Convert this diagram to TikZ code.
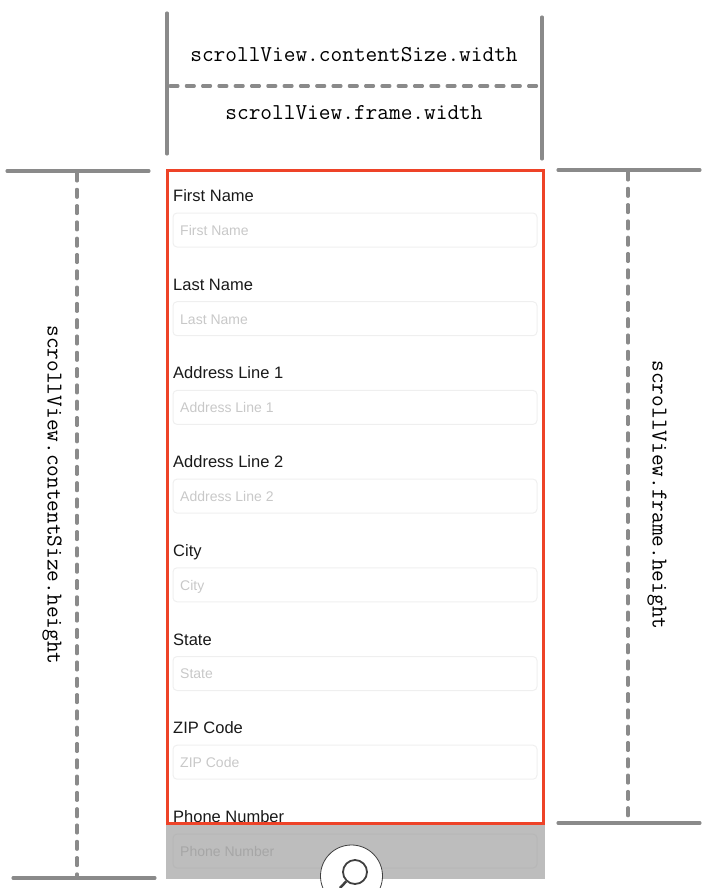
\documentclass[tikz,border=0pt]{standalone}
\usepackage{fontspec}
\setmainfont{Liberation Sans}
\usetikzlibrary{positioning}
\definecolor{dimgray}{HTML}{8A8A8A}
\definecolor{framered}{HTML}{EE4328}
\definecolor{fieldline}{HTML}{EFEFEF}
\definecolor{holdertext}{HTML}{C8C8C8}
\definecolor{dimmed}{HTML}{BDBDBD}
\tikzset{
  solidbar/.style={dimgray,line width=3.1pt,line cap=round},
  dashbar/.style={dimgray,line width=3.1pt,line cap=round,dash pattern=on 8pt off 8.3pt},
  dimlabel/.style={font=\ttfamily\fontsize{22.7}{24}\selectfont,inner sep=0pt,text=black},
  fieldbox/.style={draw=fieldline,line width=1pt,rounded corners=4pt,minimum width=364pt,minimum height=34pt,inner sep=0pt},
  fieldname/.style={font=\fontsize{16.5}{20}\selectfont,inner sep=0pt,anchor=base west,text=black!90},
  holdername/.style={font=\fontsize{14}{17}\selectfont,inner sep=0pt,anchor=base west,text=holdertext},
}
\begin{document}
\begin{tikzpicture}[x=1pt,y=-1pt]
\useasboundingbox (0,0) rectangle (710,888);
\clip (0,0) rectangle (710,888);
% dimmed part below the frame
\fill[dimmed] (166,824) rectangle (545,879);
% form rows
\foreach \rowname [count=\rownum from 0] in {First Name,Last Name,Address Line 1,Address Line 2,City,State,ZIP Code}{
  \pgfmathsetmacro{\rowy}{\rownum*88.7}
  \node[fieldname] (label\rownum) at (173,201.5+\rowy) {\rowname};
  \node[fieldbox,anchor=center] (field\rownum) at (355,230+\rowy) {};
  \node[holdername] (holder\rownum) at (180,235.3+\rowy) {\rowname};
}
% last row, cut by the frame
\begin{scope}
\clip (166,800) rectangle (545,823);
\node[fieldname] (label7) at (173,822.4) {Phone Number};
\end{scope}
\node[fieldbox,draw=black!3!dimmed,anchor=center] (field7) at (355,851) {};
\node[holdername,text=black!12!dimmed] (holder7) at (180,856.2) {Phone Number};
% frame
\draw[framered,line width=3pt] (167.5,170.5) rectangle (543.5,823.5);
% magnifier
\node[circle,draw=black!75,fill=white,line width=0.8pt,minimum size=62pt,inner sep=0pt] (lens) at (351.5,876) {};
\node[circle,draw=black!75,line width=1.8pt,minimum size=24pt,inner sep=0pt] (glass) at (355,872) {};
\coordinate (handle) at (340,888);
\draw[black!75,line width=2.5pt] (glass) -- (handle);
% top dimensions
\coordinate (topL1) at (167,13);
\coordinate (topL2) at (167,154);
\coordinate (topR1) at (542,17);
\coordinate (topR2) at (542,159);
\coordinate (dashL) at (170,86);
\coordinate (dashR) at (537,86);
\draw[solidbar] (topL1) -- (topL2);
\draw[solidbar] (topR1) -- (topR2);
\draw[dashbar] (dashL) -- (dashR);
\node[dimlabel] (contentW) at (354,55) {scrollView.contentSize.width};
\node[dimlabel] (frameW) at (354,113) {scrollView.frame.width};
% left dimension
\coordinate (leftT1) at (7,171);
\coordinate (leftT2) at (149,171);
\coordinate (leftB1) at (13,878);
\coordinate (leftB2) at (155,878);
\coordinate (leftD1) at (77,173);
\coordinate (leftD2) at (77,878);
\draw[solidbar] (leftT1) -- (leftT2);
\draw[solidbar] (leftB1) -- (leftB2);
\draw[dashbar] (leftD1) -- (leftD2);
\node[dimlabel,rotate=-90] (contentH) at (52,495) {scrollView.contentSize.height};
% right dimension
\coordinate (rightT1) at (558,170);
\coordinate (rightT2) at (700,170);
\coordinate (rightB1) at (558,823);
\coordinate (rightB2) at (700,823);
\coordinate (rightD1) at (628,172);
\coordinate (rightD2) at (628,823);
\draw[solidbar] (rightT1) -- (rightT2);
\draw[solidbar] (rightB1) -- (rightB2);
\draw[dashbar] (rightD1) -- (rightD2);
\node[dimlabel,rotate=-90] (frameH) at (657,495) {scrollView.frame.height};
\end{tikzpicture}
\end{document}
